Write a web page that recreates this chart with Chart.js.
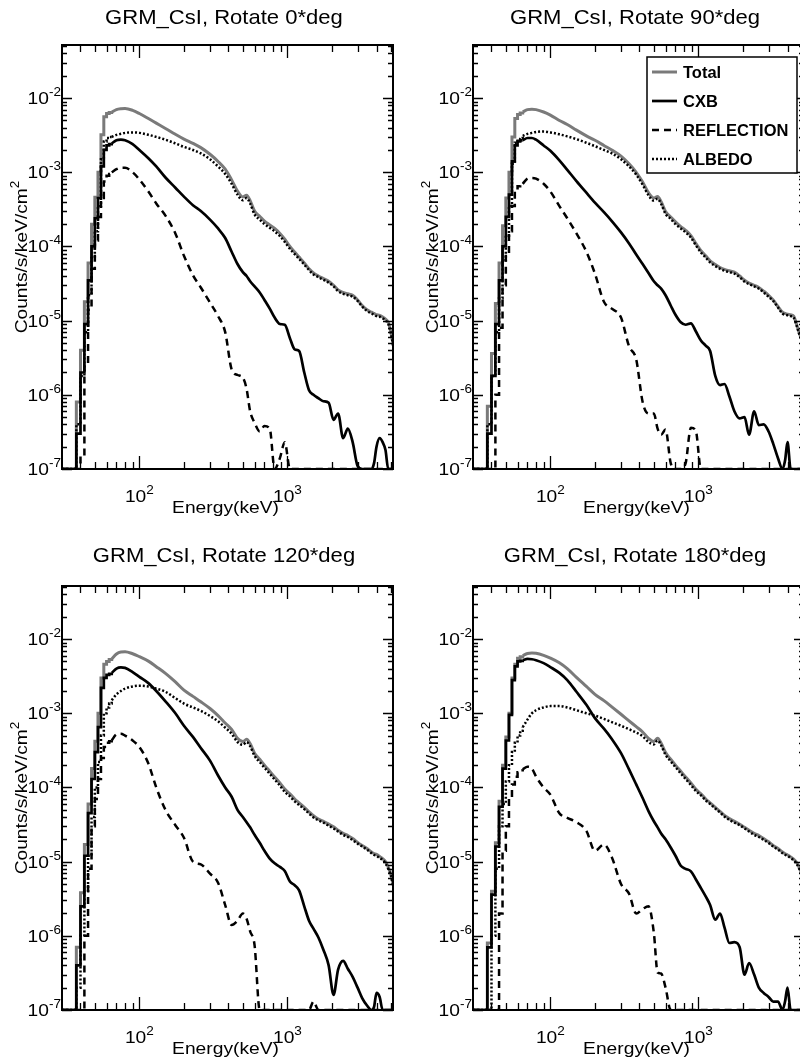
<!DOCTYPE html>
<html>
<head>
<meta charset="utf-8">
<title>GRM_CsI spectra</title>
<script src="https://cdn.jsdelivr.net/npm/chart.js@4.4.1/dist/chart.umd.min.js"></script>
<style>
  html, body { margin: 0; padding: 0; background: #fff; }
  body { width: 800px; height: 1064px; overflow: hidden; position: relative; }
  canvas { position: absolute; }
</style>
</head>
<body>
<canvas id="p0" width="412" height="541" style="left:0px;top:0px"></canvas>
<canvas id="p1" width="412" height="541" style="left:411px;top:0px"></canvas>
<canvas id="p2" width="412" height="541" style="left:0px;top:541px"></canvas>
<canvas id="p3" width="412" height="541" style="left:411px;top:541px"></canvas>
<script>
// axis ranges
const xMin = 30, xMax = 5170;
const yMin = 1e-7, yMax = 5.2e-2;

// low energy histogram bins (keV, left edges), closed by energy[0]
const binStart = [30, 37.5, 40, 42.5, 45, 47.5, 50, 52.5, 55, 57.5, 60, 62.5];

// energies of the smooth part (keV)
const energy = [
  65, 70, 75, 80, 90, 100, 115, 130, 150, 175,
  200, 230, 260, 300, 340, 380, 420, 460, 500, 530,
  560, 600, 650, 700, 760, 820, 890, 960, 1040, 1120,
  1200, 1300, 1400, 1500, 1620, 1750, 1900, 2050, 2200, 2380,
  2560, 2760, 2980, 3200, 3450, 3700, 3850, 4000, 4200, 4400,
  4600, 4800, 5000, 5200
];

const titles = [
  'GRM_CsI, Rotate 0*deg',
  'GRM_CsI, Rotate 90*deg',
  'GRM_CsI, Rotate 120*deg',
  'GRM_CsI, Rotate 180*deg'
];
const seriesNames = ['Total', 'CXB', 'REFLECTION', 'ALBEDO'];

const xMajor = [100, 1000];
const xMajorExp = ['2', '3'];
const xMinor = [40, 50, 60, 70, 80, 90, 200, 300, 400, 500, 600, 700, 800, 900, 2000, 3000, 4000, 5000];
const yDecades = [-7, -6, -5, -4, -3, -2];

// ---------- Rotate 0 ----------
const total0Bins  = [0, 8e-7, 4e-6, 1.8e-5, 6e-5, 2e-4, 4.6e-4, 1e-3, 3.2e-3, 5.6e-3, 6.2e-3, 6.4e-3];
const cxb0Bins    = [0, 3e-7, 2e-6, 9e-6, 3.5e-5, 1e-4, 2.4e-4, 4.5e-4, 1.2e-3, 2.0e-3, 2.3e-3, 2.4e-3];
const refl0Bins   = [0, 0, 1.5e-7, 2.5e-6, 1.4e-5, 5e-5, 1.2e-4, 2.5e-4, 4.5e-4, 7.5e-4, 9e-4, 9.5e-4];
const albedo0Bins = [0, 4e-7, 1.8e-6, 7e-6, 2.2e-5, 7e-5, 1.6e-4, 3.5e-4, 1.5e-3, 2.6e-3, 2.9e-3, 3.0e-3];
const total0 = [
  6.45e-3, 7.0e-3, 7.2e-3, 7.25e-3, 6.85e-3, 6.2e-3, 5.3e-3, 4.6e-3, 3.9e-3, 3.25e-3,
  2.8e-3, 2.45e-3, 2.15e-3, 1.75e-3, 1.4e-3, 1.1e-3, 7.9e-4, 5.6e-4, 4.65e-4, 4.9e-4,
  4.15e-4, 3.0e-4, 2.55e-4, 2.2e-4, 1.95e-4, 1.75e-4, 1.5e-4, 1.25e-4, 1.0e-4, 8.4e-5,
  7.2e-5, 6.0e-5, 5.0e-5, 4.4e-5, 4.0e-5, 3.7e-5, 3.4e-5, 3.0e-5, 2.6e-5, 2.4e-5,
  2.3e-5, 2.2e-5, 1.9e-5, 1.6e-5, 1.4e-5, 1.3e-5, 1.25e-5, 1.2e-5, 1.18e-5, 1.12e-5,
  1.05e-5, 9.5e-6, 7.0e-6, 4.6e-6
];
const cxb0 = [
  2.45e-3, 2.7e-3, 2.75e-3, 2.7e-3, 2.4e-3, 2.0e-3, 1.55e-3, 1.2e-3, 8.5e-4, 6.2e-4,
  4.7e-4, 3.6e-4, 3.0e-4, 2.3e-4, 1.75e-4, 1.3e-4, 8.5e-5, 5.8e-5, 4.5e-5, 4.0e-5,
  3.4e-5, 2.9e-5, 2.4e-5, 1.9e-5, 1.45e-5, 1.1e-5, 9.0e-6, 8.8e-6, 5.8e-6, 4.1e-6,
  3.9e-6, 2.0e-6, 1.15e-6, 1.0e-6, 9.0e-7, 8.2e-7, 7.8e-7, 4.6e-7, 5.6e-7, 2.6e-7,
  3.5e-7, 2.3e-7, 1.1e-7, 0, 0, 0, 1.2e-7, 2.0e-7, 2.6e-7, 2.3e-7,
  1.8e-7, 0, 0, 0
];
const refl0 = [
  1.0e-3, 1.1e-3, 1.15e-3, 1.15e-3, 1.0e-3, 8.0e-4, 5.5e-4, 3.8e-4, 2.6e-4, 1.5e-4,
  7.5e-5, 4.1e-5, 2.8e-5, 1.75e-5, 1.15e-5, 7.0e-6, 2.2e-6, 1.85e-6, 1.7e-6, 1.2e-6,
  6.0e-7, 4.2e-7, 3.2e-7, 3.8e-7, 3.5e-7, 0, 1.4e-7, 2.3e-7, 0, 0,
  0, 0, 0, 0, 0, 0, 0, 0, 0, 0,
  0, 0, 0, 0, 0, 0, 0, 0, 0, 0,
  0, 0, 0, 0
];
const albedo0 = [
  3.0e-3, 3.2e-3, 3.3e-3, 3.4e-3, 3.45e-3, 3.4e-3, 3.2e-3, 3.0e-3, 2.75e-3, 2.45e-3,
  2.2e-3, 2.0e-3, 1.8e-3, 1.5e-3, 1.2e-3, 9.5e-4, 7.0e-4, 5.0e-4, 4.2e-4, 4.5e-4,
  3.8e-4, 2.7e-4, 2.3e-4, 2.0e-4, 1.78e-4, 1.6e-4, 1.38e-4, 1.15e-4, 9.3e-5, 7.9e-5,
  6.8e-5, 5.7e-5, 4.8e-5, 4.2e-5, 3.85e-5, 3.55e-5, 3.25e-5, 2.9e-5, 2.5e-5, 2.3e-5,
  2.2e-5, 2.1e-5, 1.85e-5, 1.55e-5, 1.35e-5, 1.25e-5, 1.2e-5, 1.15e-5, 1.13e-5, 1.08e-5,
  1.0e-5, 9.1e-6, 6.8e-6, 4.4e-6
];

// ---------- Rotate 90 ----------
const total1Bins  = [0, 7e-7, 3.6e-6, 1.7e-5, 6e-5, 1.9e-4, 4.5e-4, 1e-3, 3e-3, 5.3e-3, 6e-3, 6.3e-3];
const cxb1Bins    = [0, 3e-7, 1.8e-6, 9e-6, 3.5e-5, 1e-4, 2.5e-4, 5e-4, 1.4e-3, 2.3e-3, 2.6e-3, 2.7e-3];
const refl1Bins   = [0, 0, 0, 1e-6, 8e-6, 3e-5, 8e-5, 1.6e-4, 3.5e-4, 5.5e-4, 6.5e-4, 7e-4];
const albedo1Bins = [0, 4e-7, 1.8e-6, 7e-6, 2e-5, 6.5e-5, 1.4e-4, 3.5e-4, 1.3e-3, 2.5e-3, 2.8e-3, 2.9e-3];
const total1 = [
  6.5e-3, 7.0e-3, 7.1e-3, 7.0e-3, 6.5e-3, 5.9e-3, 5.0e-3, 4.4e-3, 3.7e-3, 3.1e-3,
  2.7e-3, 2.3e-3, 2.0e-3, 1.65e-3, 1.3e-3, 1.0e-3, 7.4e-4, 5.3e-4, 4.5e-4, 4.7e-4,
  4.0e-4, 2.95e-4, 2.5e-4, 2.15e-4, 1.85e-4, 1.65e-4, 1.4e-4, 1.1e-4, 8.8e-5, 7.5e-5,
  6.4e-5, 5.7e-5, 5.2e-5, 4.9e-5, 4.7e-5, 4.5e-5, 4.0e-5, 3.5e-5, 3.2e-5, 3.0e-5,
  2.8e-5, 2.5e-5, 2.2e-5, 1.9e-5, 1.55e-5, 1.3e-5, 1.25e-5, 1.22e-5, 1.2e-5, 1.15e-5,
  9.0e-6, 6.8e-6, 5.5e-6, 4.5e-6
];
const cxb1 = [
  2.7e-3, 2.9e-3, 2.9e-3, 2.75e-3, 2.3e-3, 1.95e-3, 1.45e-3, 1.08e-3, 7.6e-4, 5.3e-4,
  3.9e-4, 2.9e-4, 2.2e-4, 1.55e-4, 1.1e-4, 7.8e-5, 5.8e-5, 4.4e-5, 3.4e-5, 3.0e-5,
  2.7e-5, 2.2e-5, 1.6e-5, 1.2e-5, 9.5e-6, 8.8e-6, 9.2e-6, 7.2e-6, 5.4e-6, 4.6e-6,
  3.9e-6, 1.8e-6, 1.35e-6, 1.4e-6, 9.5e-7, 6.0e-7, 4.8e-7, 5.0e-7, 2.9e-7, 6.0e-7,
  3.9e-7, 4.0e-7, 3.2e-7, 2.2e-7, 1.4e-7, 0, 1.3e-7, 2.3e-7, 0, 0,
  0, 0, 0, 0
];
const refl1 = [
  7.0e-4, 8.2e-4, 8.4e-4, 8.2e-4, 7.0e-4, 5.5e-4, 3.5e-4, 2.4e-4, 1.5e-4, 8.5e-5,
  4.3e-5, 1.8e-5, 1.45e-5, 1.1e-5, 4.5e-6, 3.0e-6, 8.0e-7, 5.6e-7, 5.6e-7, 3.5e-7,
  2.9e-7, 3.4e-7, 1.2e-7, 0, 0, 1.2e-7, 3.6e-7, 3.3e-7, 0, 0,
  0, 0, 0, 0, 0, 0, 0, 0, 0, 0,
  0, 0, 0, 0, 0, 0, 0, 0, 0, 0,
  0, 0, 0, 0
];
const albedo1 = [
  3.1e-3, 3.3e-3, 3.4e-3, 3.5e-3, 3.55e-3, 3.45e-3, 3.25e-3, 3.05e-3, 2.8e-3, 2.5e-3,
  2.25e-3, 2.0e-3, 1.8e-3, 1.5e-3, 1.2e-3, 9.3e-4, 6.8e-4, 4.9e-4, 4.15e-4, 4.4e-4,
  3.75e-4, 2.75e-4, 2.35e-4, 2.0e-4, 1.75e-4, 1.55e-4, 1.32e-4, 1.04e-4, 8.3e-5, 7.1e-5,
  6.1e-5, 5.45e-5, 5.0e-5, 4.7e-5, 4.5e-5, 4.3e-5, 3.85e-5, 3.35e-5, 3.1e-5, 2.9e-5,
  2.7e-5, 2.4e-5, 2.1e-5, 1.85e-5, 1.5e-5, 1.25e-5, 1.2e-5, 1.18e-5, 1.15e-5, 1.1e-5,
  8.7e-6, 6.6e-6, 5.3e-6, 4.3e-6
];

// ---------- Rotate 120 ----------
const total2Bins  = [0, 7e-7, 3.8e-6, 1.7e-5, 6e-5, 1.8e-4, 4.2e-4, 1e-3, 3e-3, 4.6e-3, 5.0e-3, 5.3e-3];
const cxb2Bins    = [0, 4e-7, 2.5e-6, 1.2e-5, 4.5e-5, 1.3e-4, 3e-4, 6.5e-4, 2.2e-3, 3.0e-3, 3.3e-3, 3.4e-3];
const refl2Bins   = [0, 0, 0, 1e-6, 8e-6, 3e-5, 7e-5, 1.3e-4, 2.5e-4, 3.5e-4, 4e-4, 4.2e-4];
const albedo2Bins = [0, 2e-7, 1e-6, 4e-6, 1.2e-5, 4e-5, 1e-4, 2.2e-4, 5e-4, 1e-3, 1.2e-3, 1.35e-3];
const total2 = [
  5.4e-3, 6.3e-3, 6.7e-3, 6.75e-3, 6.35e-3, 5.8e-3, 5.05e-3, 4.25e-3, 3.45e-3, 2.65e-3,
  2.05e-3, 1.69e-3, 1.43e-3, 1.16e-3, 9.3e-4, 7.4e-4, 6.05e-4, 4.6e-4, 4.15e-4, 4.45e-4,
  3.9e-4, 2.9e-4, 2.4e-4, 2.0e-4, 1.65e-4, 1.38e-4, 1.15e-4, 9.5e-5, 8.2e-5, 7.0e-5,
  6.2e-5, 5.4e-5, 4.7e-5, 4.15e-5, 3.75e-5, 3.5e-5, 3.2e-5, 2.95e-5, 2.65e-5, 2.4e-5,
  2.25e-5, 2.05e-5, 1.82e-5, 1.65e-5, 1.5e-5, 1.35e-5, 1.28e-5, 1.25e-5, 1.17e-5, 1.1e-5,
  1.0e-5, 8.4e-6, 6.8e-6, 4.8e-6
];
const cxb2 = [
  3.5e-3, 4.0e-3, 4.15e-3, 4.1e-3, 3.6e-3, 3.1e-3, 2.55e-3, 2.0e-3, 1.45e-3, 1.0e-3,
  6.8e-4, 4.8e-4, 3.4e-4, 2.3e-4, 1.45e-4, 1.0e-4, 7.5e-5, 5.0e-5, 4.0e-5, 3.4e-5,
  2.9e-5, 2.3e-5, 1.8e-5, 1.4e-5, 1.1e-5, 9.5e-6, 8.5e-6, 7.5e-6, 5.4e-6, 4.8e-6,
  4.1e-6, 2.5e-6, 1.6e-6, 1.25e-6, 9.5e-7, 6.5e-7, 4.0e-7, 1.6e-7, 3.5e-7, 4.6e-7,
  3.6e-7, 2.8e-7, 2.0e-7, 1.45e-7, 1.15e-7, 0, 1.1e-7, 1.7e-7, 1.5e-7, 0,
  0, 0, 0, 0
];
const refl2 = [
  4.3e-4, 5.2e-4, 5.3e-4, 5.0e-4, 4.3e-4, 3.5e-4, 2.1e-4, 1.0e-4, 5.0e-5, 3.1e-5,
  2.1e-5, 1.0e-5, 9.2e-6, 6.9e-6, 5.2e-6, 2.6e-6, 1.4e-6, 1.6e-6, 2.0e-6, 1.7e-6,
  1.15e-6, 7.5e-7, 0, 0, 0, 0, 0, 0, 0, 0,
  0, 0, 0, 1.3e-7, 0, 0, 0, 0, 0, 0,
  0, 0, 0, 0, 0, 0, 0, 0, 0, 0,
  0, 0, 0, 0
];
const albedo2 = [
  1.5e-3, 1.8e-3, 2.0e-3, 2.15e-3, 2.3e-3, 2.35e-3, 2.3e-3, 2.15e-3, 1.95e-3, 1.6e-3,
  1.35e-3, 1.2e-3, 1.08e-3, 9.2e-4, 7.8e-4, 6.4e-4, 5.3e-4, 4.1e-4, 3.75e-4, 4.1e-4,
  3.6e-4, 2.67e-4, 2.2e-4, 1.85e-4, 1.53e-4, 1.28e-4, 1.06e-4, 8.7e-5, 7.6e-5, 6.5e-5,
  5.8e-5, 5.1e-5, 4.45e-5, 3.95e-5, 3.6e-5, 3.35e-5, 3.05e-5, 2.8e-5, 2.55e-5, 2.3e-5,
  2.15e-5, 1.95e-5, 1.75e-5, 1.6e-5, 1.45e-5, 1.3e-5, 1.23e-5, 1.2e-5, 1.12e-5, 1.05e-5,
  9.5e-6, 8.0e-6, 6.5e-6, 4.5e-6
];

// ---------- Rotate 180 ----------
const total3Bins  = [0, 8e-7, 4e-6, 1.8e-5, 6.5e-5, 2e-4, 4.8e-4, 1e-3, 3e-3, 4.6e-3, 5.5e-3, 5.8e-3];
const cxb3Bins    = [0, 7e-7, 3.6e-6, 1.6e-5, 5.5e-5, 1.8e-4, 4.3e-4, 9.5e-4, 2.8e-3, 4.3e-3, 5.0e-3, 5.1e-3];
const refl3Bins   = [0, 0, 0, 1e-7, 2e-6, 1.4e-5, 3e-5, 7e-5, 1.1e-4, 1.4e-4, 1.6e-4, 1.7e-4];
const albedo3Bins = [0, 1e-7, 1e-6, 8e-6, 3e-5, 6e-5, 1.2e-4, 2e-4, 3e-4, 4e-4, 5e-4, 5.8e-4];
const total3 = [
  6.0e-3, 6.4e-3, 6.5e-3, 6.45e-3, 6.05e-3, 5.55e-3, 4.8e-3, 4.0e-3, 3.05e-3, 2.3e-3,
  1.8e-3, 1.48e-3, 1.22e-3, 9.7e-4, 7.9e-4, 6.6e-4, 5.6e-4, 4.6e-4, 4.15e-4, 4.6e-4,
  3.95e-4, 2.95e-4, 2.4e-4, 2.0e-4, 1.65e-4, 1.38e-4, 1.15e-4, 9.5e-5, 8.2e-5, 7.0e-5,
  6.2e-5, 5.4e-5, 4.75e-5, 4.2e-5, 3.8e-5, 3.5e-5, 3.2e-5, 2.9e-5, 2.65e-5, 2.4e-5,
  2.25e-5, 2.05e-5, 1.85e-5, 1.65e-5, 1.5e-5, 1.35e-5, 1.28e-5, 1.23e-5, 1.16e-5, 1.08e-5,
  9.8e-6, 8.3e-6, 6.8e-6, 4.7e-6
];
const cxb3 = [
  5.2e-3, 5.4e-3, 5.35e-3, 5.2e-3, 4.75e-3, 4.2e-3, 3.5e-3, 2.8e-3, 1.95e-3, 1.3e-3,
  8.6e-4, 6.2e-4, 4.5e-4, 2.9e-4, 1.75e-4, 1.1e-4, 7.2e-5, 4.8e-5, 3.5e-5, 2.9e-5,
  2.4e-5, 2.0e-5, 1.55e-5, 1.2e-5, 8.8e-6, 8.0e-6, 7.4e-6, 5.8e-6, 4.4e-6, 3.4e-6,
  2.6e-6, 1.65e-6, 2.0e-6, 1.3e-6, 8.0e-7, 8.2e-7, 7.0e-7, 3.0e-7, 4.3e-7, 3.0e-7,
  2.0e-7, 1.7e-7, 1.5e-7, 1.3e-7, 1.3e-7, 0, 1.3e-7, 2.0e-7, 1.0e-7, 0,
  0, 0, 0, 0
];
const refl3 = [
  1.75e-4, 1.9e-4, 1.8e-4, 1.4e-4, 1.0e-4, 8.0e-5, 4.5e-5, 3.9e-5, 3.4e-5, 2.6e-5,
  1.4e-5, 1.7e-5, 1.15e-5, 5.0e-6, 3.7e-6, 2.0e-6, 2.3e-6, 2.5e-6, 1.1e-6, 3.2e-7,
  3.1e-7, 2.0e-7, 0, 0, 0, 0, 0, 0, 0, 0,
  0, 0, 0, 0, 0, 0, 0, 0, 0, 0,
  0, 0, 0, 0, 0, 0, 0, 0, 0, 0,
  0, 0, 0, 0
];
const albedo3 = [
  6.5e-4, 8.2e-4, 1.0e-3, 1.1e-3, 1.2e-3, 1.25e-3, 1.25e-3, 1.2e-3, 1.1e-3, 1.0e-3,
  9.3e-4, 8.4e-4, 7.6e-4, 6.8e-4, 6.1e-4, 5.5e-4, 4.9e-4, 4.1e-4, 3.8e-4, 4.3e-4,
  3.7e-4, 2.75e-4, 2.25e-4, 1.88e-4, 1.55e-4, 1.3e-4, 1.08e-4, 9.0e-5, 7.8e-5, 6.7e-5,
  6.0e-5, 5.2e-5, 4.6e-5, 4.05e-5, 3.65e-5, 3.35e-5, 3.1e-5, 2.8e-5, 2.55e-5, 2.3e-5,
  2.15e-5, 1.97e-5, 1.78e-5, 1.6e-5, 1.45e-5, 1.3e-5, 1.24e-5, 1.19e-5, 1.12e-5, 1.04e-5,
  9.4e-6, 8.0e-6, 6.5e-6, 4.5e-6
];

const panels = [
  { bins: [total0Bins, cxb0Bins, refl0Bins, albedo0Bins], smooth: [total0, cxb0, refl0, albedo0], legend: false, titleY: 24 },
  { bins: [total1Bins, cxb1Bins, refl1Bins, albedo1Bins], smooth: [total1, cxb1, refl1, albedo1], legend: true,  titleY: 24 },
  { bins: [total2Bins, cxb2Bins, refl2Bins, albedo2Bins], smooth: [total2, cxb2, refl2, albedo2], legend: false, titleY: 21 },
  { bins: [total3Bins, cxb3Bins, refl3Bins, albedo3Bins], smooth: [total3, cxb3, refl3, albedo3], legend: false, titleY: 21 }
];

// line styles: Total grey, CXB solid, REFLECTION dashed, ALBEDO dotted
const lineStyles = [
  { color: '#7a7a7a', width: 3,   dash: [],       order: 4 },
  { color: '#000000', width: 2.7, dash: [],       order: 3 },
  { color: '#000000', width: 2.5, dash: [7, 5],   order: 2 },
  { color: '#000000', width: 2.5, dash: [2, 2],   order: 1 }
];

const FONT = '"Liberation Sans", Arial, Helvetica, sans-serif';
const LABEL = 17, SUP = 12, SX = 1.13;

// zero bins are drawn on the bottom of the frame, as in the original plot
function clampLow(v) {
  return v > yMin ? v : yMin;
}

function drawText(ctx, s, x, y, size, o) {
  o = o || {};
  ctx.save();
  ctx.font = (o.bold ? 'bold ' : '') + size + 'px ' + FONT;
  ctx.translate(x, y);
  ctx.scale(o.sx || 1, 1);
  ctx.textAlign = 'left';
  ctx.textBaseline = 'alphabetic';
  ctx.fillStyle = '#000';
  ctx.fillText(s, 0, 0);
  ctx.restore();
}

function textWidth(ctx, s, size, o) {
  o = o || {};
  ctx.save();
  ctx.font = (o.bold ? 'bold ' : '') + size + 'px ' + FONT;
  const w = ctx.measureText(s).width * (o.sx || 1);
  ctx.restore();
  return w;
}

// "10" with a superscript exponent
function powerLabel(ctx, exp, x, y, anchor) {
  const wb = textWidth(ctx, '10', LABEL, { sx: SX });
  const ws = textWidth(ctx, exp, SUP, { sx: SX });
  const x0 = anchor === 'right' ? x - wb - ws : x - (wb + ws) / 2;
  drawText(ctx, '10', x0, y, LABEL, { sx: SX });
  drawText(ctx, exp, x0 + wb, y - 8, SUP, { sx: SX });
}

const rootFrame = {
  id: 'rootFrame',
  afterDatasetsDraw(chart, args, opts) {
    const { ctx, chartArea: a } = chart;
    const xs = chart.scales.x, ys = chart.scales.y;
    ctx.save();

    // frame
    ctx.strokeStyle = '#000';
    ctx.lineWidth = 2;
    ctx.setLineDash([]);
    ctx.strokeRect(a.left, a.top, a.right - a.left, a.bottom - a.top);

    // ticks on all four sides, pointing inwards
    ctx.lineWidth = 1.3;
    ctx.beginPath();
    const xTick = (v, len) => {
      const px = Math.round(xs.getPixelForValue(v)) + 0.5;
      ctx.moveTo(px, a.bottom); ctx.lineTo(px, a.bottom - len);
      ctx.moveTo(px, a.top); ctx.lineTo(px, a.top + len);
    };
    const yTick = (v, len) => {
      const py = Math.round(ys.getPixelForValue(v)) + 0.5;
      ctx.moveTo(a.left, py); ctx.lineTo(a.left + len, py);
      ctx.moveTo(a.right, py); ctx.lineTo(a.right - len, py);
    };
    xMajor.forEach(v => xTick(v, 13));
    xMinor.forEach(v => xTick(v, 7));
    yDecades.forEach(d => {
      yTick(Math.pow(10, d), 10);
      for (let m = 2; m <= 9; m++) {
        const v = m * Math.pow(10, d);
        if (v < yMax) yTick(v, 5);
      }
    });
    ctx.stroke();

    // tick labels
    yDecades.forEach(d => {
      const py = ys.getPixelForValue(Math.pow(10, d));
      powerLabel(ctx, String(d), a.left - 1, py + 6, 'right');
    });
    xMajor.forEach((v, i) => {
      const px = xs.getPixelForValue(v);
      powerLabel(ctx, xMajorExp[i], px, a.bottom + 33, 'center');
    });

    // axis titles
    const xt = 'Energy(keV)';
    const wx = textWidth(ctx, xt, LABEL, { sx: SX });
    drawText(ctx, xt, a.left + 163.5 - wx / 2, a.bottom + 44, LABEL, { sx: SX });

    const yt = 'Counts/s/keV/cm';
    const wy = textWidth(ctx, yt, LABEL, { sx: SX });
    const wy2 = textWidth(ctx, '2', SUP, { sx: SX });
    ctx.save();
    ctx.translate(27, (a.top + a.bottom) / 2);
    ctx.rotate(-Math.PI / 2);
    drawText(ctx, yt, -(wy + wy2) / 2, 0, LABEL, { sx: SX });
    drawText(ctx, '2', -(wy + wy2) / 2 + wy, -8, SUP, { sx: SX });
    ctx.restore();

    // panel title
    const wt = textWidth(ctx, opts.title, 21, { sx: 1.05 });
    drawText(ctx, opts.title, a.left + 162 - wt / 2, opts.titleY, 21, { sx: 1.05 });

    // legend box
    if (opts.legend) {
      const bx = a.right - 157, by = a.top + 12, bw = 150, bh = 116;
      ctx.fillStyle = '#fff';
      ctx.fillRect(bx, by, bw, bh);
      ctx.strokeStyle = '#000';
      ctx.lineWidth = 1.5;
      ctx.strokeRect(bx, by, bw, bh);
      seriesNames.forEach((name, i) => {
        const st = lineStyles[i];
        const cy = by + 15 + i * 29;
        ctx.beginPath();
        ctx.strokeStyle = st.color;
        ctx.lineWidth = st.width;
        ctx.setLineDash(st.dash);
        ctx.moveTo(bx + 5, cy);
        ctx.lineTo(bx + 30, cy);
        ctx.stroke();
        ctx.setLineDash([]);
        drawText(ctx, name, bx + 36, cy + 6, 16.5, { bold: true });
      });
    }
    ctx.restore();
  }
};

function buildDatasets(panel) {
  const sets = [];
  seriesNames.forEach((name, s) => {
    const st = lineStyles[s];
    const bins = panel.bins[s], vals = panel.smooth[s];
    const common = {
      borderColor: st.color,
      borderWidth: st.width,
      borderDash: st.dash,
      pointRadius: 0,
      fill: false,
      order: st.order
    };
    // step histogram part at low energy: each bin value holds up to the next edge
    const stepData = binStart.map((e, i) => ({ x: e, y: clampLow(bins[i]) }));
    stepData.push({ x: energy[0], y: clampLow(vals[0]) });
    sets.push(Object.assign({ label: name, data: stepData, stepped: 'before' }, common));
    // smooth part
    const data = energy.map((e, i) => ({ x: e, y: clampLow(vals[i]) }));
    sets.push(Object.assign({ label: name, data: data, cubicInterpolationMode: 'monotone' }, common));
  });
  return sets;
}

panels.forEach((panel, p) => {
  const canvas = document.getElementById('p' + p);
  new Chart(canvas.getContext('2d'), {
    type: 'line',
    data: { datasets: buildDatasets(panel) },
    options: {
      responsive: false,
      animation: false,
      devicePixelRatio: 1,
      layout: { padding: { left: 62, top: 45, right: 19, bottom: 72 } },
      scales: {
        x: { type: 'logarithmic', min: xMin, max: xMax, display: false },
        y: { type: 'logarithmic', min: yMin, max: yMax, display: false }
      },
      plugins: {
        legend: { display: false },
        tooltip: { enabled: false },
        rootFrame: { title: titles[p], legend: panel.legend, titleY: panel.titleY }
      }
    },
    plugins: [rootFrame]
  });
});
</script>
</body>
</html>
